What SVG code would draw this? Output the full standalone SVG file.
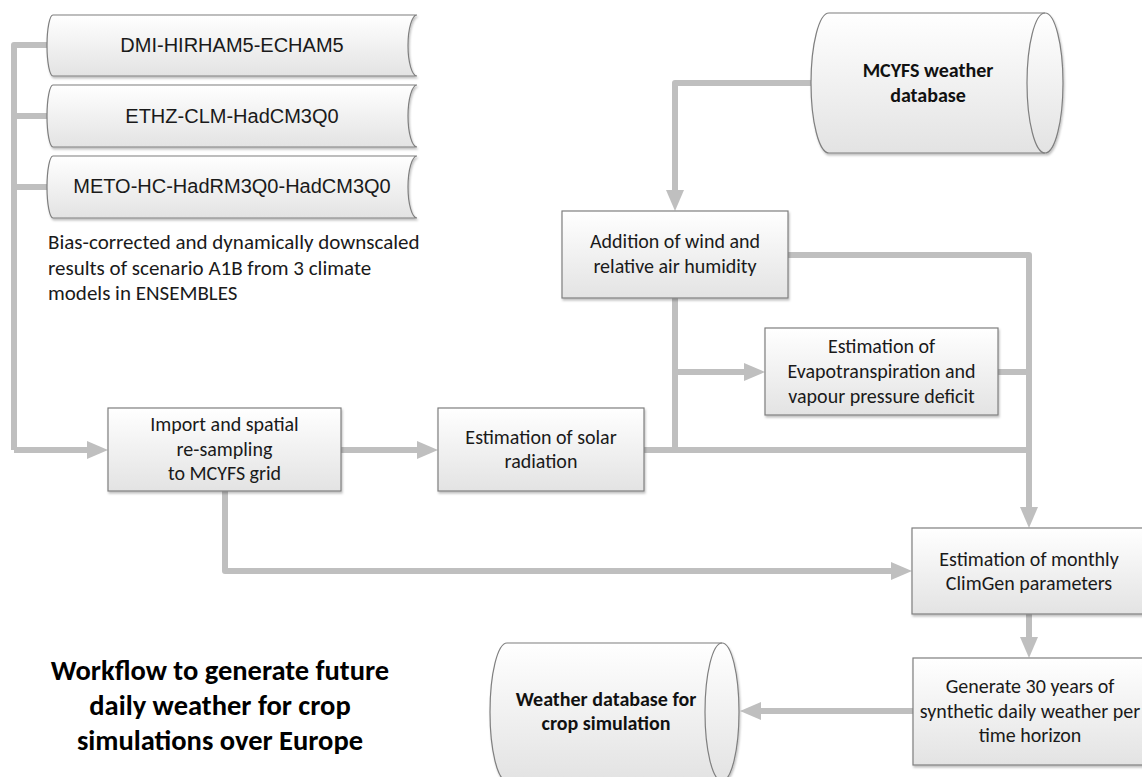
<svg xmlns="http://www.w3.org/2000/svg" width="1142" height="777" viewBox="0 0 1142 777">
<style>
.node{fill:url(#g);stroke:#7f7f7f;stroke-width:1.2;filter:url(#sh)}
.t{font-family:Carlito,Calibri,Lato,"Open Sans",sans-serif;font-size:20px;fill:#1a1a1a;text-anchor:middle}
.tn{font-family:Carlito,Calibri,Lato,"Open Sans",sans-serif;font-size:21px;fill:#1a1a1a;text-anchor:start}
.tb{font-family:Carlito,Calibri,Lato,"Open Sans",sans-serif;font-size:20px;font-weight:bold;fill:#111;text-anchor:middle}
.ta{font-family:"Liberation Sans",Arial,sans-serif;font-size:20px;fill:#1a1a1a;text-anchor:middle}
.title{font-family:Carlito,Calibri,Lato,"Open Sans",sans-serif;font-size:28.5px;font-weight:bold;fill:#000;text-anchor:middle}
.c{fill:none;stroke:#bfbfbf;stroke-width:6;stroke-linejoin:round}
.ca{fill:none;stroke:#bfbfbf;stroke-width:6;stroke-linejoin:round;marker-end:url(#ah)}
</style>
<defs>
<linearGradient id="g" x1="0" y1="0" x2="0" y2="1">
<stop offset="0" stop-color="#ffffff"/>
<stop offset="1" stop-color="#e3e3e3"/>
</linearGradient>
<filter id="sh" x="-5%" y="-5%" width="110%" height="120%">
<feDropShadow dx="1" dy="2" stdDeviation="1.2" flood-color="#000" flood-opacity="0.25"/>
</filter>
<marker id="ah" markerUnits="userSpaceOnUse" markerWidth="21" markerHeight="18" refX="0" refY="9" orient="auto">
<path d="M0,0 L21,9 L0,18 z" fill="#bfbfbf"/>
</marker>
</defs>
<rect width="1142" height="777" fill="#fff"/>

<g id="connectors">
<path class="c" d="M47,45 H14 V450"/>
<path class="c" d="M14,116 H47"/>
<path class="c" d="M14,187 H47"/>
<path class="ca" d="M14,450 H87"/>
<path class="ca" d="M341,450 H417"/>
<path class="ca" d="M225,491 V571 H891"/>
<path class="ca" d="M811,83 H675 V190"/>
<path class="ca" d="M788,255 H1029 V507"/>
<path class="c" d="M675,298 V450"/>
<path class="ca" d="M675,372 H744"/>
<path class="c" d="M998,372 H1029"/>
<path class="c" d="M644,450 H1029"/>
<path class="ca" d="M1029,614 V637"/>
<path class="ca" d="M913,711 H761"/>
</g>

<g id="model1">
<path class="node" d="M53,15 L417,15 A9 30.5 0 0 0 417,76 L53,76 A6 30.5 0 0 1 53,15 Z"/>
<text class="ta" x="232" y="52">DMI-HIRHAM5-ECHAM5</text>
</g>
<g id="model2">
<path class="node" d="M53,85 L417,85 A9 31 0 0 0 417,147 L53,147 A6 31 0 0 1 53,85 Z"/>
<text class="ta" x="232" y="123">ETHZ-CLM-HadCM3Q0</text>
</g>
<g id="model3">
<path class="node" d="M53,156 L417,156 A9 31 0 0 0 417,218 L53,218 A6 31 0 0 1 53,156 Z"/>
<text class="ta" x="232" y="193">METO-HC-HadRM3Q0-HadCM3Q0</text>
</g>

<g id="bias-note">
<text class="tn" x="48" y="249">Bias-corrected and dynamically downscaled</text>
<text class="tn" x="48" y="275">results of scenario A1B from 3 climate</text>
<text class="tn" x="48" y="300">models in ENSEMBLES</text>
</g>

<g id="mcyfs-db">
<path class="node" d="M829,13 L1045,13 A18 70 0 0 1 1045,153 L829,153 A18 70 0 0 1 829,13 Z"/>
<path d="M1045,13 A18 70 0 0 0 1045,153" fill="none" stroke="#7f7f7f" stroke-width="1.2"/>
<text class="tb" x="928" y="77">MCYFS weather</text>
<text class="tb" x="928" y="102">database</text>
</g>

<g id="addition">
<rect class="node" x="562" y="211" width="226" height="87"/>
<text class="t" x="675" y="248">Addition of wind and</text>
<text class="t" x="675" y="273">relative air humidity</text>
</g>

<g id="evapo">
<rect class="node" x="765" y="328" width="233" height="87"/>
<text class="t" x="881.5" y="353">Estimation of</text>
<text class="t" x="881.5" y="378">Evapotranspiration and</text>
<text class="t" x="881.5" y="403">vapour pressure deficit</text>
</g>

<g id="import">
<rect class="node" x="108" y="408" width="233" height="83"/>
<text class="t" x="224.5" y="431">Import and spatial</text>
<text class="t" x="224.5" y="456">re-sampling</text>
<text class="t" x="224.5" y="480">to MCYFS grid</text>
</g>

<g id="solar">
<rect class="node" x="438" y="408" width="206" height="83"/>
<text class="t" x="541" y="444">Estimation of solar</text>
<text class="t" x="541" y="468">radiation</text>
</g>

<g id="climgen">
<rect class="node" x="912" y="528" width="234" height="86"/>
<text class="t" x="1029" y="566">Estimation of monthly</text>
<text class="t" x="1029" y="590">ClimGen parameters</text>
</g>

<g id="generate">
<rect class="node" x="913" y="658" width="234" height="107"/>
<text class="t" x="1030" y="693">Generate 30 years of</text>
<text class="t" x="1030" y="718">synthetic daily weather per</text>
<text class="t" x="1030" y="742">time horizon</text>
</g>

<g id="weather-db">
<path class="node" d="M507,643 L722,643 A17 69 0 0 1 722,781 L507,781 A17 69 0 0 1 507,643 Z"/>
<path d="M722,643 A17 69 0 0 0 722,781" fill="none" stroke="#7f7f7f" stroke-width="1.2"/>
<text class="tb" x="606" y="706">Weather database for</text>
<text class="tb" x="606" y="730">crop simulation</text>
</g>

<g id="title">
<text class="title" x="220" y="680">Workflow to generate future</text>
<text class="title" x="220" y="715">daily weather for crop</text>
<text class="title" x="220" y="750">simulations over Europe</text>
</g>
</svg>
